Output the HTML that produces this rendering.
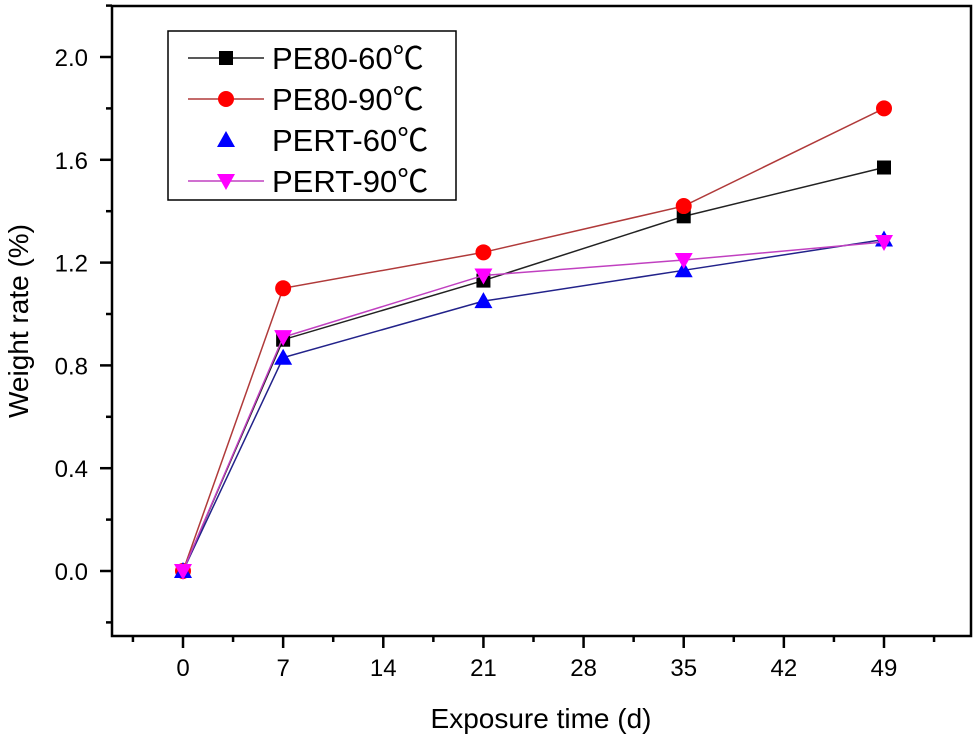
<!DOCTYPE html>
<html><head><meta charset="utf-8"><style>
body{margin:0;background:#fff}
svg{display:block}
text{font-family:"Liberation Sans","Noto Sans CJK SC",sans-serif;fill:#000}
</style></head><body>
<svg id="c" width="975" height="743"></svg>
<script>
const days=[0,7,21,35,49];
const pe80_60=[0,0.90,1.13,1.38,1.57];
const pe80_90=[0,1.10,1.24,1.42,1.80];
const pert_60=[0,0.83,1.05,1.17,1.29];
const pert_90=[0,0.91,1.15,1.21,1.28];
const xTicks=[0,7,14,21,28,35,42,49];
const yTicks=[0.0,0.4,0.8,1.2,1.6,2.0];
const NS="http://www.w3.org/2000/svg";
const svg=document.getElementById('c');
const X=d=>183+d*(884-183)/49;
const Y=v=>571-v*(571-57)/2.0;
function mk(t,a,p){const e=document.createElementNS(NS,t);for(const k in a)e.setAttribute(k,a[k]);(p||svg).appendChild(e);return e;}
const frame=mk('rect',{x:112,y:6,width:859,height:630,fill:'none',stroke:'#000','stroke-width':2.5});


for(let d=-3.5;d<=52.5;d+=3.5){const major=xTicks.includes(d);const t=mk('line',{x1:X(d),x2:X(d),y1:636,y2:major?648:642,stroke:'#000','stroke-width':2.5});

}
xTicks.forEach(d=>{const t=mk('text',{x:X(d),y:676,'font-size':24,'text-anchor':'middle'});t.textContent=d;

});
for(let v=-0.2;v<=2.21;v+=0.2){const major=Math.abs(Math.round(v*10)%4)===0;const t=mk('line',{x1:major?100:106,x2:112,y1:Y(v),y2:Y(v),stroke:'#000','stroke-width':2.5});

}
yTicks.forEach(v=>{const t=mk('text',{x:88,y:Y(v)+9,'font-size':24,'text-anchor':'end'});t.textContent=v.toFixed(1);

});
const xt=mk('text',{x:541,y:728,'font-size':28,'text-anchor':'middle'});xt.textContent='Exposure time (d)';


const yt=mk('text',{x:28,y:321,'font-size':28,'text-anchor':'middle',transform:'rotate(-90 28 321)'});yt.textContent='Weight rate (%)';


function marker(type,x,y,col,g){
 if(type==='sq')return mk('rect',{x:x-7,y:y-7,width:14,height:14,fill:col},g);
 if(type==='ci')return mk('circle',{cx:x,cy:y,r:8,fill:col},g);
 if(type==='up')return mk('polygon',{points:`${x},${y-9} ${x-9},${y+7} ${x+9},${y+7}`,fill:col},g);
 return mk('polygon',{points:`${x},${y+9} ${x-9},${y-7} ${x+9},${y-7}`,fill:col},g);
}
const series=[
 {name:'PE80-60℃',vals:pe80_60,m:'sq',c:'#000',lc:'#222'},
 {name:'PE80-90℃',vals:pe80_90,m:'ci',c:'#f00',lc:'#b03a3a'},
 {name:'PERT-60℃',vals:pert_60,m:'up',c:'#00f',lc:'#22228a'},
 {name:'PERT-90℃',vals:pert_90,m:'dn',c:'#f0f',lc:'#c040c0'}];
series.forEach((s,i)=>{
 const g=mk('g',{});
 
 
 mk('polyline',{points:s.vals.map((v,j)=>X(days[j])+','+Y(v)).join(' '),fill:'none',stroke:s.lc,'stroke-width':1.5},g);
 s.vals.forEach((v,j)=>{const p=marker(s.m,X(days[j]),Y(v),s.c,g);
 
 });
});
const lg=mk('g',{});


mk('rect',{x:168,y:31,width:288,height:169,fill:'#fff',stroke:'#000','stroke-width':1.5},lg);
series.forEach((s,i)=>{
 const y=58+i*41;
 const e=mk('g',{},lg);
 
 
 if(i!==2)mk('line',{x1:188,x2:264,y1:y,y2:y,stroke:s.lc,'stroke-width':1.5},e);
 marker(s.m,226,y,s.c,e);
 const t=mk('text',{x:272,y:y+11,'font-size':31},e);t.textContent=s.name;
});
</script>
</body></html>
